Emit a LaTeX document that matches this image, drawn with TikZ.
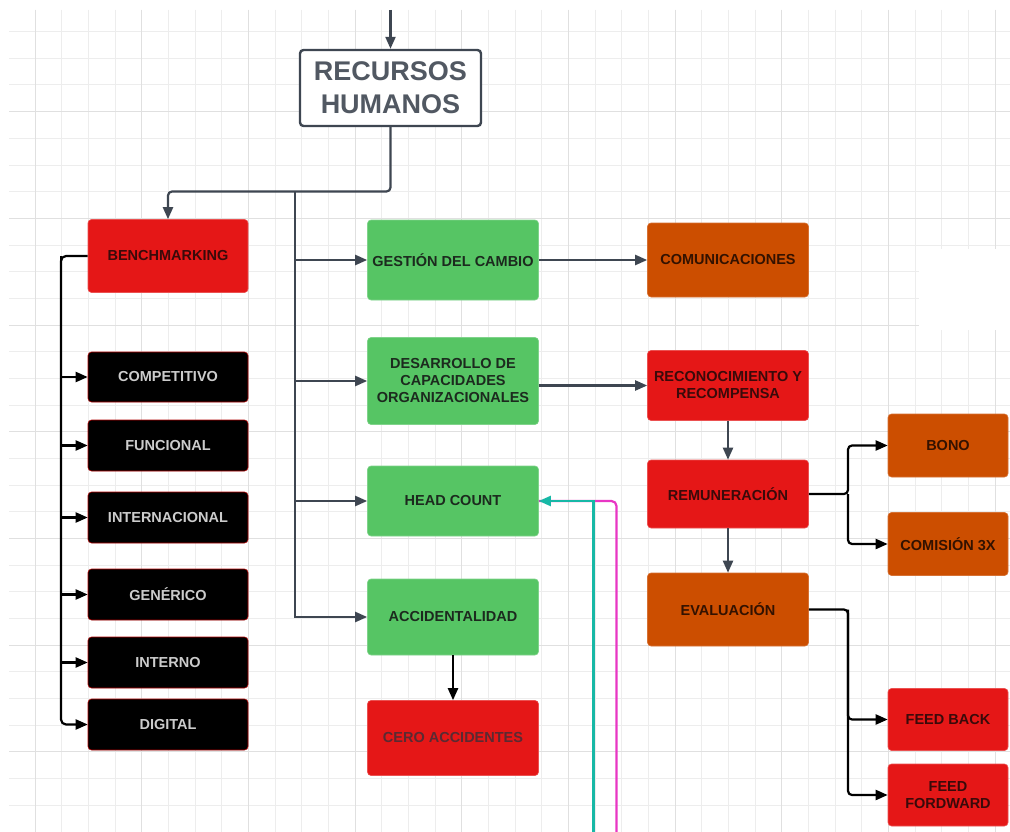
\documentclass[tikz,border=0pt]{standalone}
\usepackage{fontspec}
\setmainfont{Liberation Sans}
\usetikzlibrary{arrows.meta}

\definecolor{gridminor}{HTML}{EDEDED}
\definecolor{gridmajor}{HTML}{E0E0E0}
\definecolor{slate}{HTML}{3E4651}
\definecolor{redfill}{HTML}{E51717}
\definecolor{redtext}{HTML}{3A0A0A}
\definecolor{greenfill}{HTML}{56C564}
\definecolor{greentext}{HTML}{1C2A1E}
\definecolor{orangefill}{HTML}{CC4E00}
\definecolor{orangetext}{HTML}{331200}
\definecolor{greytext}{HTML}{CCCCCC}
\definecolor{ceroText}{HTML}{5A2A32}
\definecolor{tealline}{HTML}{17B8A6}
\definecolor{pinkline}{HTML}{E836C4}

\tikzset{
  card/.style={rectangle, rounded corners=3.5pt, inner sep=0pt, align=center,
    font=\bfseries\fontsize{14.5}{17}\selectfont},
  redcard/.style={card, fill=redfill, draw=redfill!75!white, line width=0.6pt, text=redtext},
  greencard/.style={card, fill=greenfill, draw=greenfill!75!white, line width=0.6pt, text=greentext},
  orangecard/.style={card, fill=orangefill, draw=orangefill!80!white, line width=0.6pt, text=orangetext},
  blackcard/.style={card, fill=black, draw=red!70!black, line width=0.6pt, text=greytext},
  tip/.style={-{Triangle[length=12pt,width=10pt]}},
  slateline/.style={draw=slate, line width=2.2pt},
  blackline/.style={draw=black, line width=2.2pt},
}

\begin{document}
\begin{tikzpicture}[x=1pt,y=-1pt]
\useasboundingbox (0,0) rectangle (1010,832);
\fill[white] (0,0) rectangle (1010,832);

% background grid
\foreach \i in {0,...,36}
  \draw[gridminor, line width=1pt] ({35+26.667*\i},10) -- ({35+26.667*\i},832);
\foreach \j in {0,...,29}
  \draw[gridminor, line width=1pt] (9,{31.667+26.667*\j}) -- (1010,{31.667+26.667*\j});
\foreach \i in {0,...,9}
  \draw[gridmajor, line width=1pt] ({35+106.667*\i},10) -- ({35+106.667*\i},832);
\foreach \j in {0,...,6}
  \draw[gridmajor, line width=1pt] (9,{111.667+106.667*\j}) -- (1010,{111.667+106.667*\j});
\fill[white] (919,249) rectangle (1010,330);

% head node
\node[card, fill=white, draw=slate, line width=2.4pt, text=slate!90!white,
      font=\bfseries\fontsize{27}{33}\selectfont,
      minimum width=181, minimum height=76] (rh) at (390.5,88) {RECURSOS\\HUMANOS};

% benchmarking column
\node[redcard, minimum width=160, minimum height=73] (bench) at (168,256) {BENCHMARKING};
\node[blackcard, minimum width=160, minimum height=50] (comp) at (168,377) {COMPETITIVO};
\node[blackcard, minimum width=160, minimum height=51] (func) at (168,445.5) {FUNCIONAL};
\node[blackcard, minimum width=160, minimum height=51] (intl) at (168,517.5) {INTERNACIONAL};
\node[blackcard, minimum width=160, minimum height=51] (gene) at (168,594.5) {GENÉRICO};
\node[blackcard, minimum width=160, minimum height=51] (inte) at (168,662.5) {INTERNO};
\node[blackcard, minimum width=160, minimum height=51] (digi) at (168,724.5) {DIGITAL};

% green column
\node[greencard, minimum width=171, minimum height=80] (gest) at (453,260) {GESTIÓN DEL CAMBIO};
\node[greencard, minimum width=171, minimum height=87] (desa) at (453,381) {DESARROLLO DE\\CAPACIDADES\\ORGANIZACIONALES};
\node[greencard, minimum width=171, minimum height=70] (head) at (453,501) {HEAD COUNT};
\node[greencard, minimum width=171, minimum height=76] (acci) at (453,617) {ACCIDENTALIDAD};
\node[redcard, text=ceroText, minimum width=171, minimum height=75] (cero) at (453,738) {CERO ACCIDENTES};

% right column
\node[orangecard, minimum width=161, minimum height=74] (comu) at (728,260) {COMUNICACIONES};
\node[redcard, minimum width=161, minimum height=70] (reco) at (728,385.5) {RECONOCIMIENTO Y\\RECOMPENSA};
\node[redcard, minimum width=161, minimum height=68] (remu) at (728,494) {REMUNERACIÓN};
\node[orangecard, minimum width=161, minimum height=73] (eval) at (728,609.5) {EVALUACIÓN};

% far right
\node[orangecard, minimum width=120, minimum height=63] (bono) at (948,445.5) {BONO};
\node[orangecard, minimum width=120, minimum height=63] (comi) at (948,544) {COMISIÓN 3X};
\node[redcard, minimum width=120, minimum height=62] (fb) at (948,719.5) {FEED BACK};
\node[redcard, minimum width=120, minimum height=62] (ff) at (948,795) {FEED\\FORDWARD};

% junction points
\coordinate (top) at (390.5,10);
\coordinate (jn) at (295,191.5);
\coordinate (bx) at (61,256);
\coordinate (rj) at (848,494);
\coordinate (ej) at (848,609.5);
\coordinate (cb) at (593.5,832);
\coordinate (mb) at (616.5,832);

% slate connectors
\draw[slateline, tip] (top) -- (rh.north);
\draw[slateline, tip, rounded corners=4pt] (rh.south) -- (rh.south |- jn) -| (bench.north);
\draw[slateline, tip] (jn) |- (gest.west);
\draw[slateline, tip] (jn) |- (desa.west);
\draw[slateline, tip] (jn) |- (head.west);
\draw[slateline, tip] (jn) |- (acci.west);
\draw[slateline, tip] (gest.east) -- (comu.west);
\draw[slateline, tip] (desa.east |- reco.west) -- (reco.west);
\draw[slateline, tip] (reco.south) -- (remu.north);
\draw[slateline, tip] (remu.south) -- (eval.north);

% black connectors
\draw[blackline, tip] (bx) |- (comp.west);
\draw[blackline, tip] (bx) |- (func.west);
\draw[blackline, tip] (bx) |- (intl.west);
\draw[blackline, tip] (bx) |- (gene.west);
\draw[blackline, tip] (bx) |- (inte.west);
\draw[blackline, tip, rounded corners=5pt] (bench.west) -- (bx) |- (digi.west);
\draw[blackline, tip] (acci.south) -- (cero.north);
\draw[blackline, tip, rounded corners=4pt] (remu.east) -- (rj) |- (bono.west);
\draw[blackline, tip, rounded corners=4pt] (rj) |- (comi.west);
\draw[blackline, tip, rounded corners=4pt] (eval.east) -- (ej) |- (fb.west);
\draw[blackline, tip, rounded corners=4pt] (ej) |- (ff.west);

% incoming coloured links
\draw[draw=pinkline, line width=2.2pt, rounded corners=5pt] (mb) |- (head.east);
\draw[draw=tealline, line width=2.2pt, tip] (cb) |- (head.east);
\end{tikzpicture}
\end{document}
